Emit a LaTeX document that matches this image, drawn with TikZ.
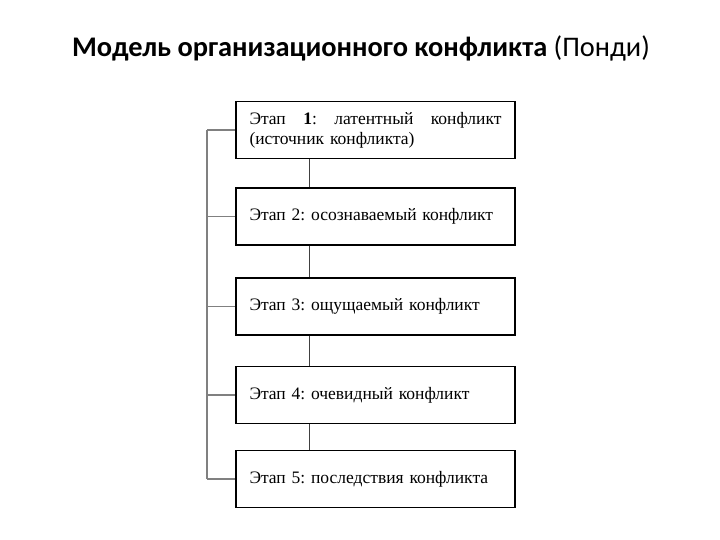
\documentclass[tikz,border=0pt]{standalone}
\usepackage{fontspec}
\setmainfont{Liberation Serif}
\newfontfamily\titlefont{Carlito}
\usetikzlibrary{positioning}
\frenchspacing

\begin{document}
\begin{tikzpicture}[x=1pt, y=-1pt,
    stage/.style={draw, line width=1.5pt, minimum width=279pt, minimum height=57pt, text width=252pt, align=left, inner sep=0pt, font=\fontsize{17.5}{20}\selectfont},
    link/.style={line width=0.8pt, black!75},
    rail/.style={line width=1.2pt, black!50}
]
\useasboundingbox (0,0) rectangle (720,540);

\node[font=\titlefont\fontsize{28.4}{32}\selectfont] (title) at (361,48) {\textbf{Модель организационного конфликта} (Понди)};

\node[stage] (s1) at (375.5,130) {Этап\hfill \textbf{1}:\hfill латентный\hfill конфликт\\(источник конфликта)};
\node[stage] (s2) at (375.5,216.5) {Этап 2: осознаваемый конфликт};
\node[stage] (s3) at (375.5,306.5) {Этап 3: ощущаемый конфликт};
\node[stage] (s4) at (375.5,395) {Этап 4: очевидный конфликт};
\node[stage] (s5) at (375.5,479) {Этап 5: последствия конфликта};

\coordinate (trunk) at (207,0);
\coordinate (spine) at (309,0);

% vertical links between stages
\foreach \a/\b in {s1/s2, s2/s3, s3/s4, s4/s5}
    \draw[link] (\a.south -| spine) -- (\b.north -| spine);

% left rail
\draw[rail] (s1.west -| trunk) -- (s5.west -| trunk);
\foreach \s in {s1,s2,s3,s4,s5}
    \draw[rail] (\s.west -| trunk) -- (\s.west);
\end{tikzpicture}
\end{document}
